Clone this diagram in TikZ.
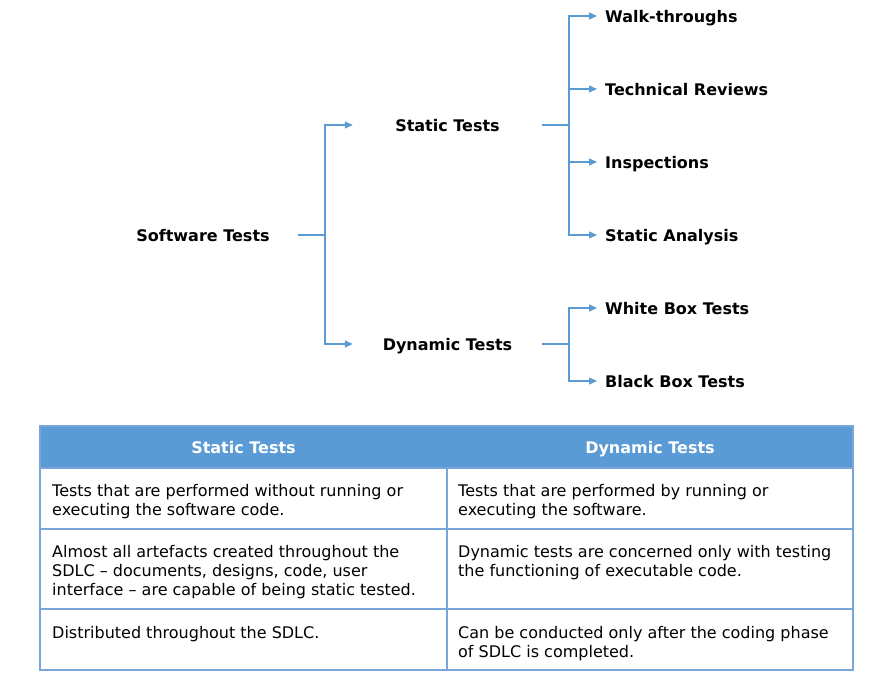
\documentclass[tikz,border=0pt]{standalone}
\usepackage{fontspec}
\setmainfont{DejaVu Sans}
\usetikzlibrary{arrows.meta}
\definecolor{lblue}{HTML}{5B9BD5}
\definecolor{tblue}{HTML}{78A6DA}
\tikzset{
  conn/.style={draw=lblue, line width=1.3pt},
  arr/.style={conn, -{Triangle[length=8pt,width=7pt]}},
  lvl/.style={font=\fontsize{16}{19}\selectfont\bfseries, inner sep=0pt, text height=13pt, text depth=0pt},
  mid/.style={lvl, minimum width=189pt},
  leaf/.style={lvl, anchor=west, inner xsep=8pt},
  hdr/.style={font=\fontsize{16}{19}\selectfont\bfseries, text=white, inner sep=0pt, anchor=base},
  cell/.style={font=\fontsize{16}{19}\selectfont, anchor=north west, inner sep=0pt, align=left},
  grid/.style={draw=tblue, line width=1.1pt}
}
\begin{document}
\begin{tikzpicture}[x=1pt,y=-1pt]
\useasboundingbox (0,0) rectangle (894,678);
% tree
\node[lvl, minimum width=190pt] (sw) at (203,235) {Software Tests};
\node[mid] (st) at (447.5,125) {Static Tests};
\node[mid] (dt) at (447.5,344) {Dynamic Tests};
\node[leaf] (l1) at (597,16) {Walk-throughs};
\node[leaf] (l2) at (597,89) {Technical Reviews};
\node[leaf] (l3) at (597,162) {Inspections};
\node[leaf] (l4) at (597,235) {Static Analysis};
\node[leaf] (l5) at (597,308) {White Box Tests};
\node[leaf] (l6) at (597,381) {Black Box Tests};
\coordinate (j1) at (325,235);
\coordinate (j2) at (569,125);
\coordinate (j3) at (569,344);
\draw[conn] (sw.east) -- (j1);
\draw[arr] (j1) |- (st.west);
\draw[arr] (j1) |- (dt.west);
\draw[conn] (st.east) -- (j2);
\draw[arr] (j2) |- (l1.west);
\draw[arr] (j2) |- (l2.west);
\draw[arr] (j2) |- (l3.west);
\draw[arr] (j2) |- (l4.west);
\draw[conn] (dt.east) -- (j3);
\draw[arr] (j3) |- (l5.west);
\draw[arr] (j3) |- (l6.west);
% table
\fill[lblue] (40,426) rectangle (853,468);
\draw[grid] (40,468) -- (853,468);
\draw[grid] (40,529) -- (853,529);
\draw[grid] (40,609) -- (853,609);
\draw[grid] (40,426) rectangle (853,670);
\draw[grid] (447,468) -- (447,670);
\node[hdr] (h1) at (243.5,453) {Static Tests};
\node[hdr] (h2) at (650,453) {Dynamic Tests};
\node[cell] (c11) at (52,483.8) {Tests that are performed without running or\\executing the software code.};
\node[cell] (c12) at (458,483.8) {Tests that are performed by running or\\executing the software.};
\node[cell] (c21) at (52,544.8) {Almost all artefacts created throughout the\\SDLC – documents, designs, code, user\\interface – are capable of being static tested.};
\node[cell] (c22) at (458,544.8) {Dynamic tests are concerned only with testing\\the functioning of executable code.};
\node[cell] (c31) at (52,625.8) {Distributed throughout the SDLC.};
\node[cell] (c32) at (458,625.8) {Can be conducted only after the coding phase\\of SDLC is completed.};
\end{tikzpicture}
\end{document}
